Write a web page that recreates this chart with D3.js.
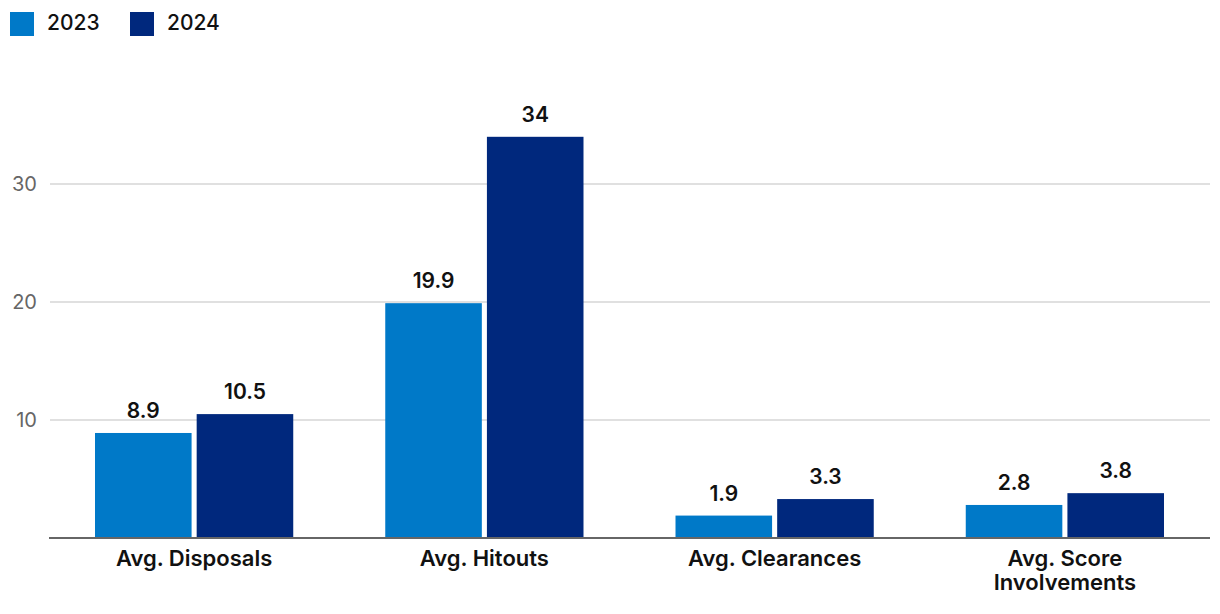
<!DOCTYPE html>
<html><head><meta charset="utf-8">
<script src="https://cdn.jsdelivr.net/npm/d3@7"></script>
<style>body{margin:0;background:#fff;}svg{display:block;font-family:Inter,"Noto Sans",sans-serif;}</style>
</head><body>
<svg id="c" width="1220" height="614"></svg>
<script>
const categories = ["Avg. Disposals","Avg. Hitouts","Avg. Clearances","Avg. Score Involvements"];
const seriesNames = ["2023","2024"];
const values2023 = [8.9, 19.9, 1.9, 2.8];
const values2024 = [10.5, 34, 3.3, 3.8];
const valueLabels2023 = ["8.9","19.9","1.9","2.8"];
const valueLabels2024 = ["10.5","34","3.3","3.8"];
const yTicks = [10, 20, 30];
const colors = ["#0079c8", "#00287d"];

const svg = d3.select("#c");
const left = 49, right = 1210, bottom = 538;
const y = d3.scaleLinear().domain([0, 1]).range([bottom, bottom - 11.8]);
const x = d3.scaleBand().domain(categories).range([left, right]).paddingInner(0.317).paddingOuter(0.1585);
const xs = d3.scaleBand().domain(seriesNames).range([0, x.bandwidth()]).paddingInner(0.05);

// grid
svg.append("g").selectAll("line").data(yTicks).join("line")
  .attr("x1", left + 1).attr("x2", right).attr("y1", d => y(d)).attr("y2", d => y(d))
  .attr("stroke", "#d6d6d6").attr("stroke-width", 1.5);
svg.append("g").selectAll("text").data(yTicks).join("text")
  .attr("x", 37).attr("y", d => y(d)).attr("dy", "0.35em").attr("text-anchor", "end")
  .attr("font-size", 20).attr("fill", "#666").text(d => d);

const data = [values2023, values2024];
const labels = [valueLabels2023, valueLabels2024];
seriesNames.forEach((s, si) => {
  const g = svg.append("g");
  g.selectAll("rect").data(categories).join("rect")
    .attr("x", c => x(c) + xs(s)).attr("width", xs.bandwidth())
    .attr("y", (c, i) => y(data[si][i])).attr("height", (c, i) => bottom - y(data[si][i]))
    .attr("fill", colors[si]);
  g.selectAll("text").data(categories).join("text")
    .attr("x", c => x(c) + xs(s) + xs.bandwidth() / 2)
    .attr("y", (c, i) => y(data[si][i]) - 15)
    .attr("text-anchor", "middle").attr("font-size", 21).attr("font-weight", 600).attr("fill", "#111")
    .text((c, i) => labels[si][i]);
});

// baseline
svg.append("line").attr("x1", left).attr("x2", right).attr("y1", bottom).attr("y2", bottom)
  .attr("stroke", "#666").attr("stroke-width", 2);

// category labels
const wrap = {"Avg. Score Involvements": ["Avg. Score", "Involvements"]};
categories.forEach(c => {
  const lines = wrap[c] || [c];
  lines.forEach((l, i) => {
    svg.append("text").attr("text-anchor", "middle").attr("font-size", 22).attr("font-weight", 600).attr("fill", "#111")
      .attr("x", x(c) + x.bandwidth() / 2).attr("y", 566 + i * 24).text(l);
  });
});

// legend
const leg = svg.append("g");
const legX = [10, 130];
seriesNames.forEach((s, i) => {
  leg.append("rect").attr("x", legX[i]).attr("y", 12).attr("width", 24).attr("height", 24).attr("fill", colors[i]);
  leg.append("text").attr("x", legX[i] + 37).attr("y", 23).attr("dy", "0.35em")
    .attr("font-size", 21).attr("font-weight", 500).attr("fill", "#111").text(s);
});
</script>
</body></html>
